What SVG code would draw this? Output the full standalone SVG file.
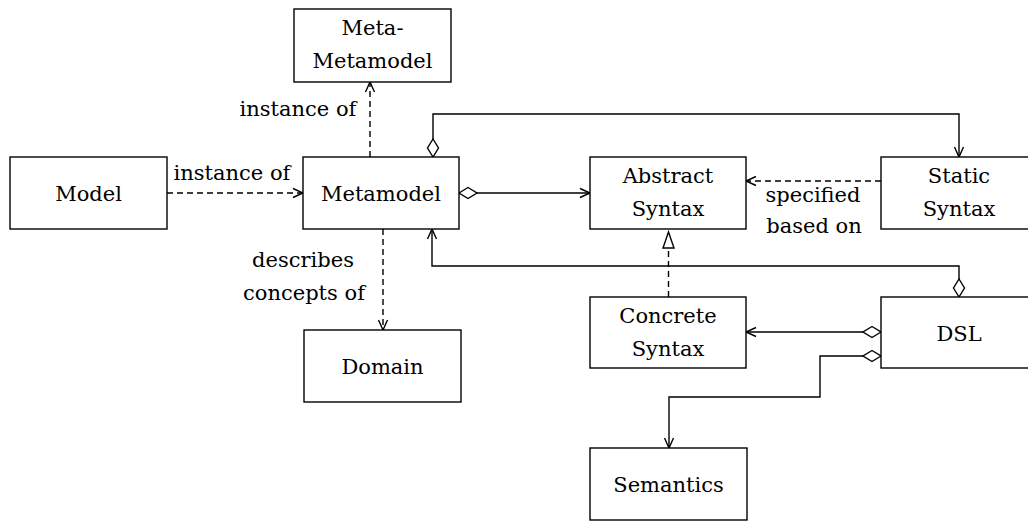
<svg xmlns="http://www.w3.org/2000/svg" width="1028" height="521" viewBox="0 0 1028 521">
  <style>
    .box { fill: #ffffff; stroke: #000000; stroke-width: 1.4; }
    .lbl { font-size: 21px; fill: #000000; text-anchor: middle; }
    .edge { fill: none; stroke: #000000; stroke-width: 1.4; }
    .dash { stroke-dasharray: 6 4; }
    .to { marker-end: url(#open); }
    .agg { marker-start: url(#diamond); }
  </style>
  <defs>
    <marker id="open" markerUnits="userSpaceOnUse" markerWidth="14" markerHeight="12" viewBox="-11 -6 13 12" refX="0" refY="0" orient="auto">
      <path d="M-10,-4.5 L0,0 L-10,4.5" fill="none" stroke="#000000" stroke-width="1.4" stroke-dasharray="none"/>
    </marker>
    <marker id="diamond" markerUnits="userSpaceOnUse" markerWidth="22" markerHeight="14" viewBox="-1 -7 22 14" refX="0" refY="0" orient="auto">
      <path d="M0,0 L9,-5.5 L18,0 L9,5.5 Z" fill="#ffffff" stroke="#000000" stroke-width="1.4"/>
    </marker>
  </defs>

  <g font-family="DejaVu Serif, Liberation Serif, serif">
  <!-- connectors -->
  <g id="connectors">
    <path class="edge dash to" d="M370,157 V82"/>
    <path class="edge dash to" d="M167,193 H303"/>
    <path class="edge dash to" d="M383,229 V330"/>
    <path class="edge agg to" d="M459,193 H590"/>
    <path class="edge dash to" d="M881,181 H746"/>
    <path class="edge agg to" d="M433,157 V114 H959 V157"/>
    <path class="edge agg to" d="M959,297 V266 H432 V229"/>
    <path class="edge dash" d="M668.5,297 V248"/>
    <polygon points="668.5,232 663,248 674,248" fill="#ffffff" stroke="#000000" stroke-width="1.4"/>
    <path class="edge agg to" d="M881,332 H746"/>
    <path class="edge agg to" d="M881,356 H820 V397 H669 V448"/>

    <text class="lbl" x="298" y="116">instance of</text>
    <text class="lbl" x="232" y="180">instance of</text>
    <text class="lbl" x="303" y="267">describes</text>
    <text class="lbl" x="304" y="300">concepts of</text>
    <text class="lbl" x="813" y="202">specified</text>
    <text class="lbl" x="814" y="233">based on</text>
  </g>

  <g id="meta-metamodel">
    <rect class="box" x="294" y="9" width="157" height="73"/>
    <text class="lbl" x="372.5" y="35">Meta-</text>
    <text class="lbl" x="372.5" y="68">Metamodel</text>
  </g>

  <g id="model">
    <rect class="box" x="10" y="157" width="157" height="72"/>
    <text class="lbl" x="88.5" y="201">Model</text>
  </g>

  <g id="metamodel">
    <rect class="box" x="303" y="157" width="156" height="72"/>
    <text class="lbl" x="381" y="201">Metamodel</text>
  </g>

  <g id="abstract-syntax">
    <rect class="box" x="590" y="157" width="156" height="72"/>
    <text class="lbl" x="668" y="183">Abstract</text>
    <text class="lbl" x="668" y="216">Syntax</text>
  </g>

  <g id="static-syntax">
    <rect class="box" x="881" y="157" width="156" height="72"/>
    <text class="lbl" x="959" y="183">Static</text>
    <text class="lbl" x="959" y="216">Syntax</text>
  </g>

  <g id="domain">
    <rect class="box" x="304" y="330" width="157" height="72"/>
    <text class="lbl" x="382.5" y="374">Domain</text>
  </g>

  <g id="concrete-syntax">
    <rect class="box" x="590" y="297" width="156" height="71"/>
    <text class="lbl" x="668" y="323">Concrete</text>
    <text class="lbl" x="668" y="356">Syntax</text>
  </g>

  <g id="dsl">
    <rect class="box" x="881" y="297" width="156" height="71"/>
    <text class="lbl" x="959" y="341">DSL</text>
  </g>

  <g id="semantics">
    <rect class="box" x="590" y="448" width="157" height="72"/>
    <text class="lbl" x="668.5" y="492">Semantics</text>
  </g>
  </g>
</svg>
